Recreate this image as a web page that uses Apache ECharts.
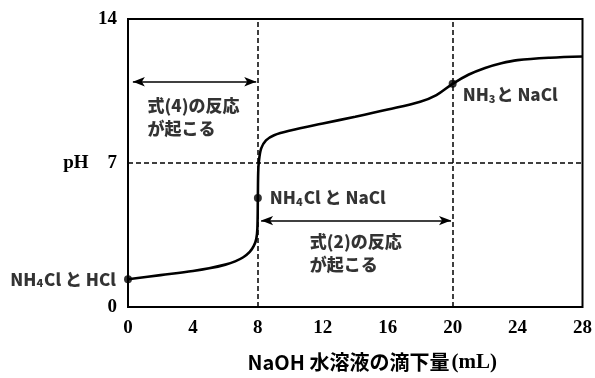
<!DOCTYPE html>
<html><head><meta charset="utf-8">
<script src="https://cdn.jsdelivr.net/npm/echarts@6/dist/echarts.min.js"></script>
<style>html,body{margin:0;padding:0;background:#fff}#c{width:595px;height:378px}</style>
</head><body><div id="c"></div>
<script>
// NaOH volume (mL) and pH of the titration curve
const volume = [0, 2, 4, 5, 6, 6.6, 7.1, 7.5, 7.75, 7.9, 7.97, 8.0, 8.02, 8.06, 8.2, 8.5, 9, 10, 12, 14, 16, 18, 19, 20, 21, 22, 23, 24, 26, 28];
const pH     = [1.35, 1.55, 1.75, 1.88, 2.06, 2.22, 2.42, 2.68, 2.97, 3.3, 3.8, 5.3, 6.5, 7.05, 7.7, 8.1, 8.35, 8.58, 8.92, 9.25, 9.6, 9.98, 10.3, 10.85, 11.3, 11.62, 11.85, 12.0, 12.12, 12.18];
// marked points
const pointX = [0, 8, 20];
const pointY = [1.35, 5.3, 10.85];
// tick labels
const xTicks = [0, 4, 8, 12, 16, 20, 24, 28];
const yTickLabels = {0: '0', 7: 'pH    7', 14: '14'};
// reference lines
const refX = [8, 20];
const refY = [7];
// arrows: [x1, x2, y]
const arrow4 = [0.3, 7.9, 10.95];
const arrow2 = [8.2, 19.9, 4.2];
// text annotations anchored in data coordinates
const noteTexts = ['式(4)の反応\nが起こる', '式(2)の反応\nが起こる'];
const noteX = [1.2, 11.2];
const noteY = [9.25, 2.6];
const pointLabels = ['{t|NH}{s|4}{t|Cl と HCl}', '{t|NH}{s|4}{t|Cl と NaCl}', '{t|NH}{s|3}{t|と NaCl}'];
const xTitle = '{a|NaOH 水溶液の滴下量}{b|(mL)}';

const sans = '"Noto Sans CJK JP", "Noto Sans", sans-serif';
const serif = '"Liberation Serif", "DejaVu Serif", serif';
const W = 900;
const rich = {
  t: {fontFamily: sans, fontWeight: W, fontSize: 17, color: '#000'},
  s: {fontFamily: sans, fontWeight: W, fontSize: 11, color: '#000', padding: [8, 1, 0, 0]}
};
const labelPos = [
  {position: 'left', distance: 8},
  {position: 'right', distance: 8},
  {position: 'right', distance: 6, offset: [0, 11]}
];

const chart = echarts.init(document.getElementById('c'));
chart.setOption({
  animation: false,
  grid: {left: 128, top: 19, width: 459, height: 297, show: true, borderColor: '#000', borderWidth: 2, containLabel: false},
  xAxis: {
    type: 'value', min: 0, max: 28, interval: 4,
    axisLine: {show: false}, axisTick: {show: false}, splitLine: {show: false},
    axisLabel: {margin: 12, fontFamily: serif, fontWeight: 'bold', fontSize: 19, color: '#000',
      formatter: v => xTicks.includes(v) ? String(v) : ''},
    name: xTitle, nameLocation: 'middle', nameGap: 45,
    nameTextStyle: {padding: [0, 0, 0, 34], rich: {
      a: {fontFamily: sans, fontWeight: 'bold', fontSize: 20, color: '#000'},
      b: {fontFamily: serif, fontWeight: 'bold', fontSize: 21, color: '#000', padding: [0, 0, 0, 2]}
    }}
  },
  yAxis: {
    type: 'value', min: 0, max: 14, interval: 7,
    axisLine: {show: false}, axisTick: {show: false}, splitLine: {show: false},
    axisLabel: {margin: 11, fontFamily: serif, fontWeight: 'bold', fontSize: 19, color: '#000',
      formatter: v => yTickLabels[v] || ''}
  },
  series: [
    {
      type: 'line', data: volume.map((v, i) => [v, pH[i]]),
      showSymbol: false, smooth: 0.35,
      lineStyle: {color: '#000', width: 2.6}, silent: true,
      markLine: {
        silent: true, symbol: ['none', 'none'], label: {show: false},
        lineStyle: {color: '#000', width: 1.5, type: [5, 3]},
        data: [...refX.map(x => ({xAxis: x})), ...refY.map(y => ({yAxis: y}))]
      }
    },
    {
      type: 'line', data: [], silent: true,
      markLine: {
        silent: true, symbol: ['arrow', 'arrow'], symbolSize: [7, 12], label: {show: false},
        lineStyle: {color: '#000', width: 1.6, type: 'solid'},
        data: [
          [{coord: [arrow4[0], arrow4[2]]}, {coord: [arrow4[1], arrow4[2]]}],
          [{coord: [arrow2[0], arrow2[2]]}, {coord: [arrow2[1], arrow2[2]]}]
        ]
      }
    },
    {
      type: 'scatter', symbolSize: 8, itemStyle: {color: '#000'}, silent: true,
      data: pointX.map((x, i) => ({
        value: [x, pointY[i]],
        label: Object.assign({show: true, formatter: pointLabels[i], rich: rich}, labelPos[i])
      }))
    },
    {
      type: 'scatter', symbolSize: 0, silent: true,
      data: noteX.map((x, i) => ({
        value: [x, noteY[i]],
        label: {show: true, position: 'right', distance: 0, formatter: noteTexts[i],
          fontFamily: sans, fontWeight: W, fontSize: 17, lineHeight: 23, color: '#000', align: 'left'}
      }))
    }
  ]
});
</script></body></html>
